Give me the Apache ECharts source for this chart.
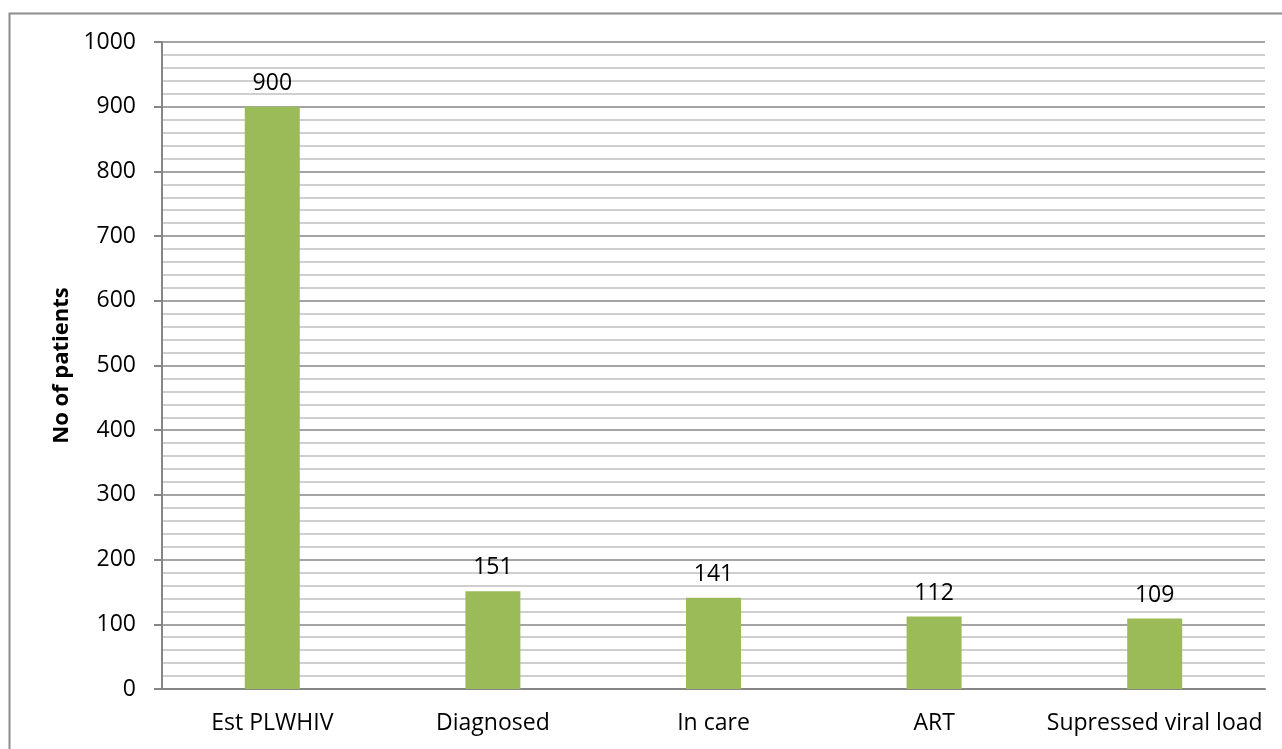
<!DOCTYPE html>
<html>
<head>
<meta charset="utf-8">
<script src="https://cdn.jsdelivr.net/npm/echarts@6/dist/echarts.min.js"></script>
<style>
  html, body { margin: 0; padding: 0; background: #fff; }
  #main { width: 1282px; height: 749px; }
</style>
</head>
<body>
<div id="main"></div>
<script>
// Datos del gráfico
var categories = ['Est PLWHIV', 'Diagnosed', 'In care', 'ART', 'Supressed viral load'];
var patients = [900, 151, 141, 112, 109];
var yTicks = [0, 1000, 100];

var chartDom = document.getElementById('main');
var myChart = echarts.init(chartDom);
var option;

var fontName = "'Open Sans', 'Liberation Sans', sans-serif";

option = {
  animation: false,
  textStyle: { fontFamily: fontName },
  graphic: [
    {
      type: 'rect',
      shape: { x: 9.5, y: 13.5, width: 1290, height: 760 },
      style: { fill: 'none', stroke: '#8c8c8c', lineWidth: 2 },
      silent: true
    }
  ],
  grid: {
    left: 162,
    right: 17,
    top: 42,
    bottom: 60
  },
  xAxis: {
    type: 'category',
    data: categories,
    axisLine: { lineStyle: { color: '#868686', width: 2 } },
    axisTick: { show: false },
    axisLabel: {
      interval: 0,
      color: '#000',
      fontSize: 23,
      fontFamily: fontName,
      margin: 23
    }
  },
  yAxis: {
    type: 'value',
    min: yTicks[0],
    max: yTicks[1],
    interval: yTicks[2],
    name: 'No of patients',
    nameLocation: 'middle',
    nameGap: 88,
    nameTextStyle: {
      color: '#000',
      fontSize: 22,
      fontWeight: 'bold',
      fontFamily: fontName
    },
    axisLine: { show: true, lineStyle: { color: '#868686', width: 2 } },
    axisTick: { show: true, length: 8, lineStyle: { color: '#868686', width: 2 } },
    axisLabel: {
      color: '#000',
      fontSize: 23,
      fontFamily: fontName,
      margin: 26,
      formatter: function (v) { return String(v); }
    },
    splitLine: { show: true, lineStyle: { color: '#868686', width: 1.5 } },
    minorTick: { show: false, splitNumber: 5 },
    minorSplitLine: { show: true, lineStyle: { color: '#c0c0c0', width: 1.5 } }
  },
  series: [
    {
      name: 'Patients',
      type: 'bar',
      data: patients,
      barWidth: 55,
      itemStyle: { color: '#9bbb59' },
      label: {
        show: true,
        position: 'top',
        distance: 12,
        color: '#000',
        fontSize: 23,
        fontFamily: fontName
      }
    }
  ]
};

option && myChart.setOption(option);
</script>
</body>
</html>
